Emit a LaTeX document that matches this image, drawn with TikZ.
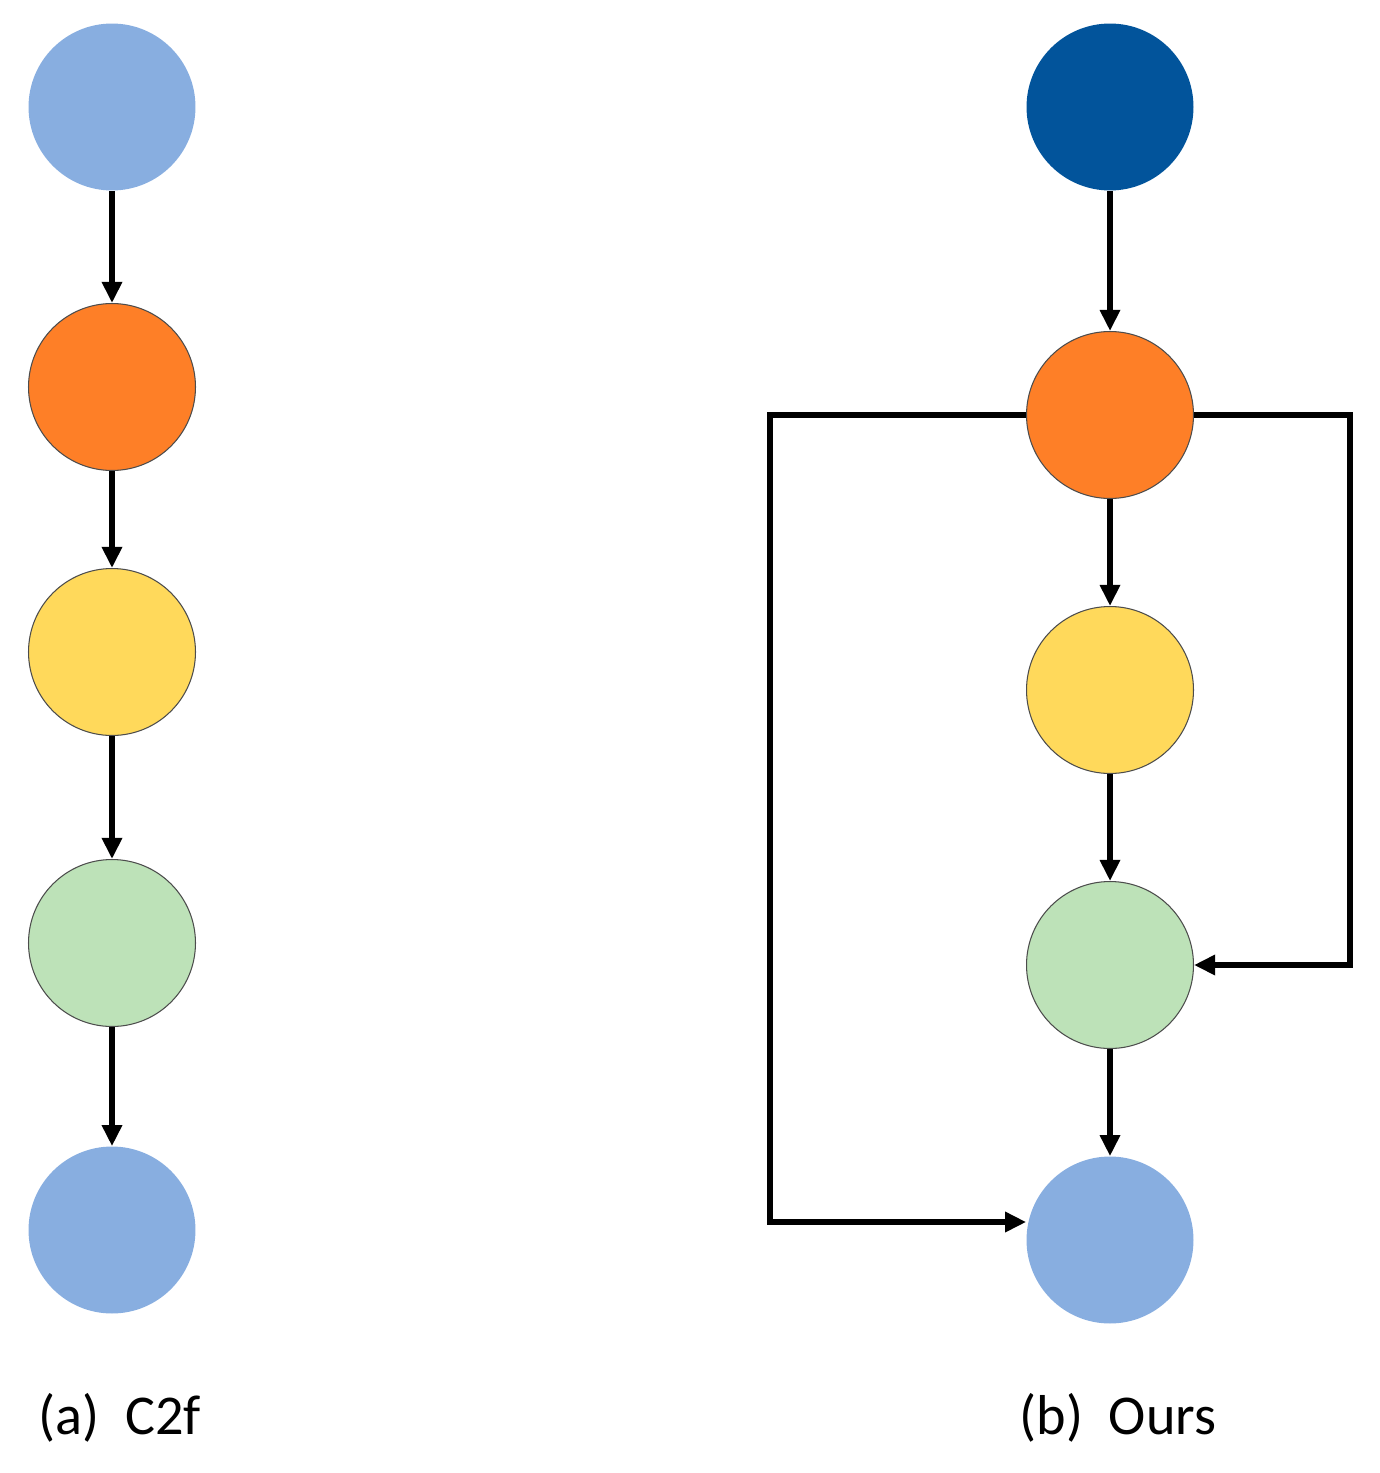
\documentclass[tikz,border=0pt]{standalone}
\usepackage{fontspec}
\setmainfont{Carlito}
\usetikzlibrary{arrows.meta}
\definecolor{lblue}{HTML}{88AEE0}
\definecolor{dblue}{HTML}{02549B}
\definecolor{orng}{HTML}{FE7F27}
\definecolor{yllw}{HTML}{FFD95B}
\definecolor{grn}{HTML}{BDE2B8}
\tikzset{
  blob/.style={circle, minimum size=3.34cm, inner sep=0pt},
  rim/.style={blob, draw=black!70, line width=0.6pt},
  flow/.style={line width=3.1pt, -{Triangle[length=12pt,width=11pt]}},
  caption/.style={font=\fontsize{32}{36}\selectfont}
}
\begin{document}
\begin{tikzpicture}[x=0.02cm,y=-0.02cm]
    \useasboundingbox (0,0) rectangle (1379,1473);

    % (a) C2f
    \node[blob, fill=lblue] (a1) at (112,107) {};
    \node[rim, fill=orng] (a2) at (112,387) {};
    \node[rim, fill=yllw] (a3) at (112,652) {};
    \node[rim, fill=grn] (a4) at (112,943) {};
    \node[blob, fill=lblue] (a5) at (112,1230) {};
    \foreach \i/\j in {a1/a2, a2/a3, a3/a4, a4/a5}
        \draw[flow] (\i) -- (\j);
    \node[caption] (capa) at (120,1418) {(a)\ \ C2f};

    % (b) Ours
    \node[blob, fill=dblue] (b1) at (1110,107) {};
    \node[rim, fill=orng] (b2) at (1110,415) {};
    \node[rim, fill=yllw] (b3) at (1110,690) {};
    \node[rim, fill=grn] (b4) at (1110,965) {};
    \node[blob, fill=lblue] (b5) at (1110,1240) {};
    \foreach \i/\j in {b1/b2, b2/b3, b3/b4, b4/b5}
        \draw[flow] (\i) -- (\j);

    % skip connections
    \coordinate (lt) at (770,415);
    \coordinate (lb) at (770,1222);
    \coordinate (rt) at (1350,415);
    \coordinate (rb) at (1350,965);
    \draw[flow, line join=miter] (b2.west) -- (lt) -- (lb) -- (b5.west |- lb);
    \draw[flow, line join=miter] (b2.east) -- (rt) -- (rb) -- (b4.east);
    \node[caption] (capb) at (1118,1418) {(b)\ \ Ours};
\end{tikzpicture}
\end{document}
